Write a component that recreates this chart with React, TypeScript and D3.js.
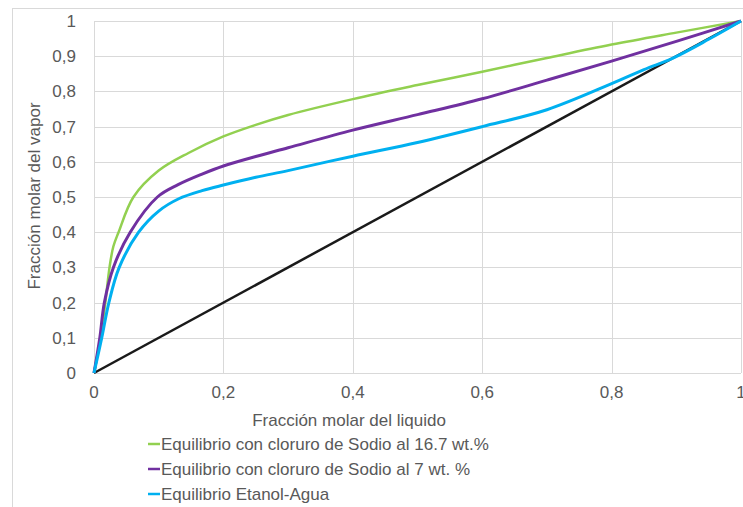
import React, { useEffect, useRef } from 'react'
import * as d3 from 'd3'

// valores
const xTicks = [0, 0.2, 0.4, 0.6, 0.8, 1]
const yTicks = [0, 0.1, 0.2, 0.3, 0.4, 0.5, 0.6, 0.7, 0.8, 0.9, 1]

const sodio167X = [0, 0.01, 0.0175, 0.024, 0.03, 0.038, 0.061, 0.1, 0.146, 0.2, 0.25, 0.3, 0.4, 0.5, 0.6, 0.7, 0.8, 0.9, 1]
const sodio167Y = [0, 0.1, 0.2, 0.3, 0.36, 0.4, 0.5, 0.575, 0.625, 0.672, 0.705, 0.733, 0.778, 0.818, 0.856, 0.895, 0.933, 0.967, 1]

const sodio7X = [0, 0.009, 0.016, 0.03, 0.056, 0.098, 0.13, 0.167, 0.2, 0.25, 0.3, 0.4, 0.5, 0.6, 0.7, 0.8, 0.9, 1]
const sodio7Y = [0, 0.1, 0.2, 0.3, 0.4, 0.5, 0.535, 0.565, 0.588, 0.615, 0.64, 0.69, 0.734, 0.779, 0.832, 0.886, 0.942, 1]

const etanolX = [0, 0.012, 0.023, 0.039, 0.069, 0.1, 0.131, 0.167, 0.2, 0.25, 0.3, 0.4, 0.5, 0.6, 0.7, 0.8, 0.85, 0.894, 0.95, 1]
const etanolY = [0, 0.1, 0.2, 0.3, 0.4, 0.46, 0.495, 0.518, 0.534, 0.556, 0.575, 0.616, 0.655, 0.7, 0.748, 0.822, 0.862, 0.894, 0.948, 1]

const diagonalX = [0, 1]
const diagonalY = [0, 1]

const seriesNames = [
  'Equilibrio con cloruro de Sodio al 16.7 wt.%',
  'Equilibrio con cloruro de Sodio al 7 wt. %',
  'Equilibrio Etanol-Agua',
]
const seriesColors = ['#92d050', '#7030a0', '#00b0f0']

function ChartVapor() {
  const ref = useRef<SVGSVGElement>(null)

  useEffect(() => {
    const w = 743, h = 507
    const svg = d3.select(ref.current)
    svg.selectAll('*').remove()

    const font = '"Liberation Sans", Arial, sans-serif'
    const grey = '#595959'

    const x = d3.scaleLinear().domain([0, 1]).range([94, 741])
    const y = d3.scaleLinear().domain([0, 1]).range([373, 21])

    // marco del grafico
    svg.append('rect')
      .attr('x', 12.5).attr('y', 8.5)
      .attr('width', w + 20).attr('height', h + 20)
      .attr('fill', '#fff')
      .attr('stroke', '#d9d9d9')

    // rejilla
    svg.append('g').selectAll('line')
      .data(yTicks)
      .enter()
      .append('line')
      .attr('x1', x(0)).attr('x2', x(1))
      .attr('y1', d => Math.round(y(d)) + 0.5)
      .attr('y2', d => Math.round(y(d)) + 0.5)
      .attr('stroke', '#d9d9d9')

    svg.append('g').selectAll('line')
      .data(xTicks)
      .enter()
      .append('line')
      .attr('y1', y(0)).attr('y2', y(1))
      .attr('x1', d => Math.round(x(d)) + 0.5)
      .attr('x2', d => Math.round(x(d)) + 0.5)
      .attr('stroke', '#d9d9d9')

    // etiquetas de los ejes
    svg.append('g').selectAll('text')
      .data(yTicks)
      .enter()
      .append('text')
      .attr('x', 76)
      .attr('y', d => y(d) + 6)
      .attr('text-anchor', 'end')
      .attr('font-family', font)
      .attr('font-size', '17px')
      .attr('fill', grey)
      .text(d => String(d).replace('.', ','))

    svg.append('g').selectAll('text')
      .data(xTicks)
      .enter()
      .append('text')
      .attr('x', d => x(d))
      .attr('y', 398)
      .attr('text-anchor', 'middle')
      .attr('font-family', font)
      .attr('font-size', '17px')
      .attr('fill', grey)
      .text(d => String(d).replace('.', ','))

    svg.append('text')
      .attr('x', 349).attr('y', 426)
      .attr('text-anchor', 'middle')
      .attr('font-family', font)
      .attr('font-size', '17px')
      .attr('fill', grey)
      .text('Fracción molar del liquido')

    svg.append('text')
      .attr('transform', 'translate(40, 196) rotate(-90)')
      .attr('text-anchor', 'middle')
      .attr('font-family', font)
      .attr('font-size', '17px')
      .attr('fill', grey)
      .text('Fracción molar del vapor')

    // lineas
    const line = d3.line<[number, number]>()
      .x(d => x(d[0]))
      .y(d => y(d[1]))
      .curve(d3.curveCatmullRom.alpha(0.5))

    const pairs = (xs: number[], ys: number[]) => xs.map((v, i) => [v, ys[i]] as [number, number])

    svg.append('path')
      .attr('d', line(pairs(diagonalX, diagonalY)))
      .attr('fill', 'none')
      .attr('stroke', '#1a1a1a')
      .attr('stroke-width', 2.5)

    const series = [
      pairs(sodio167X, sodio167Y),
      pairs(sodio7X, sodio7Y),
      pairs(etanolX, etanolY),
    ]
    series.forEach((s, i) => {
      svg.append('path')
        .attr('d', line(s))
        .attr('fill', 'none')
        .attr('stroke', seriesColors[i])
        .attr('stroke-width', i === 0 ? 2.5 : 3)
        .attr('stroke-linejoin', 'round')
    })

    // leyenda
    const legend = svg.append('g')
      .selectAll('g')
      .data(seriesNames)
      .enter()
      .append('g')
      .attr('transform', (d, i) => 'translate(0,' + (450 + i * 25) + ')')

    legend.append('line')
      .attr('x1', 148).attr('x2', 160)
      .attr('y1', -6).attr('y2', -6)
      .attr('stroke', (d, i) => seriesColors[i])
      .attr('stroke-width', 2.5)

    legend.append('text')
      .attr('x', 161)
      .attr('y', 0)
      .attr('font-family', font)
      .attr('font-size', '17px')
      .attr('fill', grey)
      .text(d => d)
  }, [])

  return (
    <svg ref={ref} width={743} height={507}
      style={{ position: 'absolute', left: 0, top: 0 }}></svg>
  )
}

export default function App() {
  return <ChartVapor />
}
